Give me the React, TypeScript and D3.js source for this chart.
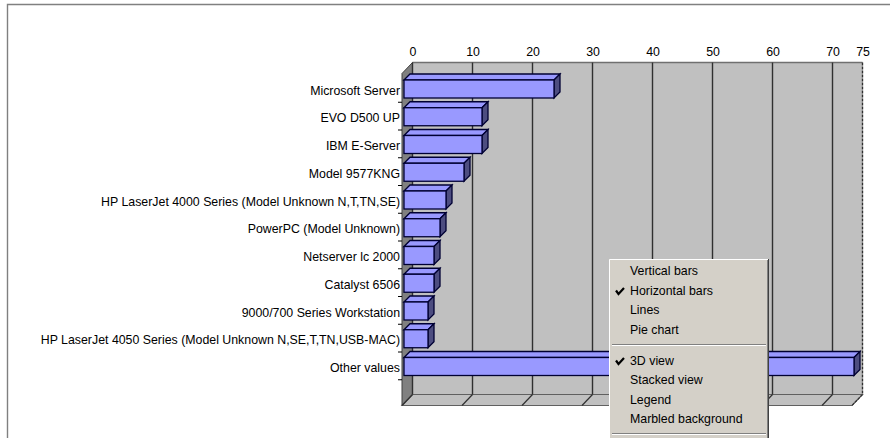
import React from "react";
import * as d3 from "d3";

const categories = [
  "Microsoft Server",
  "EVO D500 UP",
  "IBM E-Server",
  "Model 9577KNG",
  "HP LaserJet 4000 Series (Model Unknown N,T,TN,SE)",
  "PowerPC (Model Unknown)",
  "Netserver lc 2000",
  "Catalyst 6506",
  "9000/700 Series Workstation",
  "HP LaserJet 4050 Series (Model Unknown N,SE,T,TN,USB-MAC)",
  "Other values",
];
const seriesValues = [25, 13, 13, 10, 7, 6, 5, 5, 4, 4, 75];
const tickValues = [0, 10, 20, 30, 40, 50, 60, 70, 75];
const menuTop = ["Vertical bars", "Horizontal bars", "Lines", "Pie chart"];
const menuBottom = ["3D view", "Stacked view", "Legend", "Marbled background"];
const menuChecked = ["Horizontal bars", "3D view"];

const W = 890;
const H = 438;
const FONT = "'Liberation Sans', Arial, sans-serif";
const FS = 12.35;
const x = d3.scaleLinear().domain([0, 75]).range([412.5, 862.5]);
const y = d3.scaleBand<string>().domain(categories).range([74.5, 74.5 + 27.75 * 11]);
const top = 62.5;
const bottom = 394.5;
const dx = 10.5;
const dy = 11;
const barInset = 8.5; // bar's back-left distance from wall
const bd = 6; // bar depth
const barH = 18;

function Check({ cx, cy }: { cx: number; cy: number }) {
  return (
    <path
      d={`M${cx - 4} ${cy - 1} L${cx - 1.5} ${cy + 2.5} L${cx + 4} ${cy - 3.5}`}
      fill="none"
      stroke="#000"
      strokeWidth={2.2}
    />
  );
}

export default function App() {
  const menuX = 609;
  const menuY = 259;
  const menuW = 160;
  return (
    <svg
      width={W}
      height={H}
      viewBox={`0 0 ${W} ${H}`}
      style={{ position: "absolute", left: 0, top: 0, background: "#fff" }}
      fontFamily={FONT}
    >
      <rect width={W} height={H} fill="#fff" />
      <path d={`M7.5 ${H} V4.5 H${W}`} fill="none" stroke="#808080" strokeWidth={1.4} />
      {/* walls */}
      <rect x={x(0)} y={top} width={x(75) - x(0)} height={bottom - top} fill="#c0c0c0" />
      <path d={`M${x(0)} ${top} H${x(75)}`} stroke="#707070" strokeWidth={1.3} fill="none" />
      <path
        d={`M${x(0)} ${top} L${x(0) - dx} ${top + dy} V${bottom + dy} L${x(0)} ${bottom} Z`}
        fill="#808080"
        stroke="#404040"
      />
      <path
        d={`M${x(0)} ${bottom} H${x(75)} L${x(75) - dx} ${bottom + dy} H${x(0) - dx} Z`}
        fill="#c0c0c0"
        stroke="#606060"
        strokeWidth={1.2}
      />
      {tickValues.map((t) => (
        <g key={t}>
          <line
            x1={x(t)}
            x2={x(t)}
            y1={top}
            y2={bottom}
            stroke="#303030"
            strokeWidth={1.4}
            strokeDasharray={t === 75 ? "3 1" : undefined}
          />
          <line
            x1={x(t)}
            x2={x(t) - dx}
            y1={bottom}
            y2={bottom + dy}
            stroke="#303030"
            strokeWidth={1.2}
            strokeDasharray={t === 75 ? "3 1" : undefined}
          />
          <text x={x(t) + 0.5} y={56} textAnchor="middle" fontSize={FS} fill="#000">
            {t}
          </text>
        </g>
      ))}
      {/* category labels and ticks */}
      {categories.map((c) => {
        const b = y(c)!;
        return (
          <g key={c}>
            <line x1={398} x2={402} y1={b + 27.75} y2={b + 27.75} stroke="#000" />
            <text x={400} y={b + 20} textAnchor="end" fontSize={FS} fill="#000">
              {c}
            </text>
          </g>
        );
      })}
      {/* bars */}
      {categories.map((c, i) => {
        const front = y(c)! + 5.5;
        const x0 = x(0) - barInset;
        const x1 = x(seriesValues[i]) - barInset;
        return (
          <g key={c} stroke="#000033" strokeWidth={1.3}>
            <path
              d={`M${x0} ${front} L${x0 + bd} ${front - bd} H${x1 + bd} L${x1} ${front} Z`}
              fill="#9999ff"
            />
            <path
              d={`M${x1} ${front} L${x1 + bd} ${front - bd} V${front + barH - bd} L${x1} ${front + barH} Z`}
              fill="#4d4d80"
            />
            <rect x={x0} y={front} width={x1 - x0} height={barH} fill="#9999ff" />
          </g>
        );
      })}
      {/* context menu */}
      <rect x={menuX} y={menuY} width={menuW} height={H - menuY + 4} fill="#d4d0c8" />
      <path d={`M${menuX + 0.5} ${H} V${menuY + 0.5} H${menuX + menuW - 1}`} fill="none" stroke="#fff" />
      <path d={`M${menuX + menuW - 0.5} ${menuY} V${H}`} fill="none" stroke="#404040" />
      <path d={`M${menuX + menuW - 1.5} ${menuY + 1} V${H}`} fill="none" stroke="#808080" />
      {menuTop.map((m, i) => (
        <g key={m}>
          {menuChecked.includes(m) && <Check cx={620} cy={291.5} />}
          <text x={630} y={275 + i * 19.6} fontSize={FS} fill="#000">
            {m}
          </text>
        </g>
      ))}
      <line x1={612} x2={766} y1={344.5} y2={344.5} stroke="#808080" />
      <line x1={612} x2={766} y1={345.5} y2={345.5} stroke="#fff" />
      {menuBottom.map((m, i) => (
        <g key={m}>
          {menuChecked.includes(m) && <Check cx={620} cy={361.5} />}
          <text x={630} y={364.5 + i * 19.6} fontSize={FS} fill="#000">
            {m}
          </text>
        </g>
      ))}
      <line x1={612} x2={766} y1={433.5} y2={433.5} stroke="#808080" />
      <line x1={612} x2={766} y1={434.5} y2={434.5} stroke="#fff" />
    </svg>
  );
}
